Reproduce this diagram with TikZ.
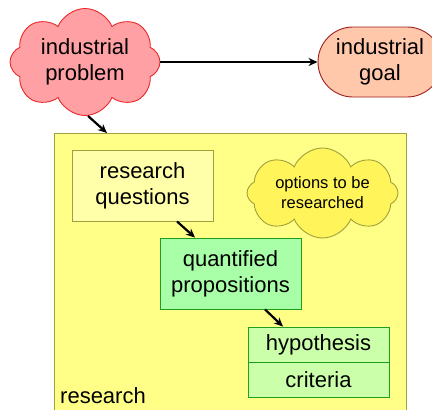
\documentclass[tikz,border=0pt]{standalone}
\usepackage{fontspec}
\setmainfont{Liberation Sans}
\usetikzlibrary{shapes.symbols,shapes.misc,arrows.meta}
\definecolor{probfill}{RGB}{255,160,165}
\definecolor{probdraw}{RGB}{235,40,40}
\definecolor{goalfill}{RGB}{255,200,170}
\definecolor{goaldraw}{RGB}{160,30,30}
\definecolor{resfill}{RGB}{255,255,136}
\definecolor{resdraw}{RGB}{160,160,60}
\definecolor{rqfill}{RGB}{255,255,170}
\definecolor{optfill}{RGB}{255,245,90}
\definecolor{qpfill}{RGB}{168,255,168}
\definecolor{grdraw}{RGB}{30,160,30}
\definecolor{hypfill}{RGB}{204,255,170}
\tikzset{
  bigtxt/.style={font=\fontsize{22}{26}\selectfont, align=center, text=black},
  boxnode/.style={draw, rectangle, line width=0.9pt, inner sep=0pt, bigtxt},
  cloudnode/.style={draw, cloud, cloud puffs=8, cloud puff arc=135, cloud ignores aspect, line width=0.9pt, inner sep=0pt},
  arr/.style={-{Stealth[length=9pt,width=8pt]}, line width=2.2pt, black}
}
\begin{document}
\begin{tikzpicture}[x=1pt,y=-1pt]
\useasboundingbox (0,0) rectangle (432,410);
% research container
\node[draw=resdraw, fill=resfill, line width=0.9pt, rectangle, inner sep=0pt,
      minimum width=352pt, minimum height=282pt] (research) at (230,274) {};
\node[bigtxt, anchor=base west, inner sep=0pt] (reslabel) at (60,403) {research};
% industrial problem cloud
\node[cloudnode, draw=probdraw, fill=probfill, minimum width=150pt, minimum height=107pt, bigtxt] (prob) at (85,62) {industrial\\problem};
% industrial goal
\node[draw=goaldraw, fill=goalfill, rounded rectangle, line width=0.9pt, inner sep=0pt,
      minimum width=124pt, minimum height=70pt, bigtxt] (goal) at (380,62) {industrial\\goal};
% research questions
\node[boxnode, draw=resdraw, fill=rqfill, minimum width=141pt, minimum height=71pt] (rq) at (142.5,185.5) {research\\questions};
% options cloud
\node[cloudnode, draw=resdraw, fill=optfill, minimum width=151pt, minimum height=90pt,
      font=\fontsize{16.5}{20}\selectfont, align=center] (opt) at (322.5,193) {options to be\\researched};
% quantified propositions
\node[boxnode, draw=grdraw, fill=qpfill, minimum width=141pt, minimum height=71pt] (qp) at (230.5,273.5) {quantified\\propositions};
% hypothesis / criteria
\node[boxnode, draw=grdraw, fill=hypfill, minimum width=141pt, minimum height=35pt] (hyp) at (318.5,344.5) {hypothesis};
\node[boxnode, draw=grdraw, fill=hypfill, minimum width=141pt, minimum height=35pt] (crit) at (318.5,379.5) {criteria};
% arrows
\coordinate (rtop) at (107,133);
\draw[arr] (prob.east) -- (goal.west);
\draw[arr] ([xshift=3pt]prob.south) -- (rtop);
\draw[arr] ([xshift=34.5pt]rq.south) -- ([xshift=-35.5pt]qp.north);
\draw[arr] ([xshift=34.5pt]qp.south) -- ([xshift=-35.5pt]hyp.north);
\end{tikzpicture}
\end{document}
